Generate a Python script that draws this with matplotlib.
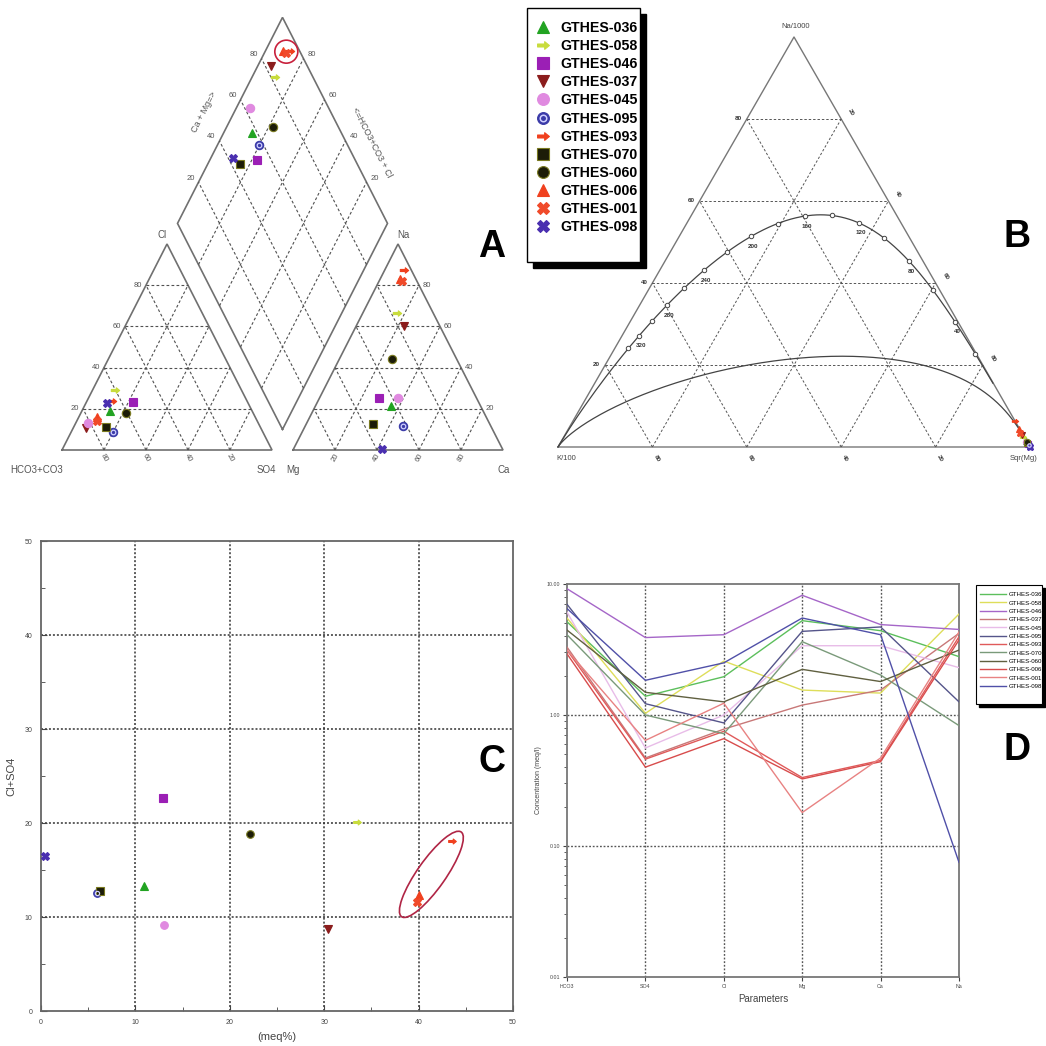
import numpy as np
import matplotlib
matplotlib.use("Agg")
import matplotlib.pyplot as plt
from matplotlib.path import Path
from matplotlib.patches import Rectangle, Ellipse
from matplotlib.lines import Line2D
from matplotlib.legend_handler import HandlerTuple
from matplotlib.ticker import FixedLocator, NullFormatter, FixedFormatter

plt.rcParams['font.family'] = ['Liberation Sans', 'DejaVu Sans']

# ------------------------------------------------------------------ data
samples = ["GTHES-036", "GTHES-058", "GTHES-046", "GTHES-037", "GTHES-045", "GTHES-095",
           "GTHES-093", "GTHES-070", "GTHES-060", "GTHES-006", "GTHES-001", "GTHES-098"]

# Piper - anion triangle (%)
piper_cl = [18.9, 29.1, 23.3, 10.7, 13.1, 8.7, 23.8, 11.2, 18.0, 16.0, 14.1, 22.8]
piper_so4 = [13.4, 10.6, 22.2, 6.1, 5.8, 19.9, 11.9, 15.4, 21.5, 8.7, 9.6, 10.0]
# Piper - cation triangle (%)
piper_na = [21.4, 66.5, 25.2, 60.2, 25.2, 11.7, 87.4, 12.6, 44.2, 83.0, 82.0, 0.5]
piper_ca = [36.0, 16.3, 28.4, 22.8, 37.4, 46.6, 9.2, 31.8, 25.0, 9.5, 10.9, 42.2]
# Piper - diamond (%)
diam_camg = [57.5, 82.0, 53.3, 82.7, 62.5, 57.9, 95.4, 44.2, 68.9, 92.1, 93.0, 42.3]
diam_hco3cl = [86.5, 89.1, 77.6, 93.7, 93.5, 80.3, 88.3, 84.7, 77.9, 91.6, 89.7, 89.4]

# Giggenbach Na-K-Mg (% of Na/1000 + K/100 + sqrt(Mg))
gig_na = [1.5, 2.4, 0.8, 3.0, 1.3, 0.4, 6.3, 1.0, 1.2, 4.3, 3.5, 0.1]
gig_k = [0.2, 0.3, 0.1, 0.3, 0.2, 0.0, 0.1, 0.1, 0.0, 0.1, 0.3, 0.0]
TKN = (1390.0, 1.75)     # Na-K geothermometer constants
TKM = (4410.0, 14.0)     # K-Mg geothermometer constants
MI_PARTIAL = 2.0         # maturity index of partial-equilibrium line
T_marks = list(range(20, 341, 20))
T_labels = [40, 80, 120, 160, 200, 240, 280, 320]

# Scatter (panel C)
c_meq = [10.87, 33.49, 12.88, 30.42, 13.02, 5.96, 43.54, 6.25, 22.12, 40.05, 39.87, 0.42]
c_clso4 = [13.27, 20.12, 22.71, 8.77, 9.19, 12.56, 18.13, 12.74, 18.84, 12.38, 11.60, 16.5]

# Schoeller (panel D), meq/l
params = ["HCO3", "SO4", "Cl", "Mg", "Ca", "Na"]
d_hco3 = [5.15, 5.5, 9.2, 3.3, 6.1, 7.0, 3.13, 4.1, 4.45, 2.93, 3.13, 6.5]
d_so4 = [1.39, 1.03, 3.9, 0.47, 0.56, 1.22, 0.46, 1.0, 1.49, 0.40, 0.64, 1.84]
d_cl = [1.96, 2.58, 4.1, 0.78, 1.0, 0.87, 0.75, 0.72, 1.26, 0.66, 1.23, 2.5]
d_mg = [5.25, 1.55, 8.2, 1.19, 3.38, 4.35, 0.333, 3.63, 2.23, 0.325, 0.18, 5.5]
d_ca = [4.4, 1.47, 4.9, 1.55, 3.38, 4.7, 0.45, 2.02, 1.8, 0.44, 0.47, 4.1]
d_na = [2.79, 5.9, 4.5, 4.2, 2.3, 1.26, 3.96, 0.83, 3.13, 3.74, 4.3, 0.075]

grouped = ["GTHES-006", "GTHES-001", "GTHES-093"]

# ------------------------------------------------------------------ styles
ARROW = Path([(-1, -0.25), (0.2, -0.25), (0.2, -0.65), (1, 0), (0.2, 0.65), (0.2, 0.25),
              (-1, 0.25), (-1, -0.25)],
             [Path.MOVETO] + [Path.LINETO] * 6 + [Path.CLOSEPOLY])
styles = {
    "GTHES-036": ('^', '#22a322', '#22a322'),
    "GTHES-058": (ARROW, '#c8dc3c', '#c8dc3c'),
    "GTHES-046": ('s', '#9b1fb5', '#9b1fb5'),
    "GTHES-037": ('v', '#8b1c1c', '#8b1c1c'),
    "GTHES-045": ('o', '#e08ae0', '#e08ae0'),
    "GTHES-095": ('o', '#3a3aa8', '#3a3aa8'),
    "GTHES-093": (ARROW, '#f0401e', '#f0401e'),
    "GTHES-070": ('s', '#1c1c08', '#7a7a20'),
    "GTHES-060": ('o', '#1c1c08', '#7a7a20'),
    "GTHES-006": ('^', '#f0401e', '#f0401e'),
    "GTHES-001": ('X', '#f04a2a', '#f04a2a'),
    "GTHES-098": ('X', '#4a2fb0', '#4a2fb0'),
}
line_colors = {
    "GTHES-036": '#5cbf5c', "GTHES-058": '#dede5a', "GTHES-046": '#a566c8',
    "GTHES-037": '#c87878', "GTHES-045": '#e8bce8', "GTHES-095": '#55558a',
    "GTHES-093": '#e05a5a', "GTHES-070": '#7a9a7a', "GTHES-060": '#606040',
    "GTHES-006": '#d84c4c', "GTHES-001": '#e88282', "GTHES-098": '#5050a8',
}


def draw_pt(ax, x, y, name, ms, z=5):
    m, fc, ec = styles[name]
    ax.plot([x], [y], linestyle='none', marker=m, ms=ms, mfc=fc, mec=ec, mew=0.8, zorder=z)
    if name == "GTHES-095":
        ax.plot([x], [y], linestyle='none', marker='o', ms=ms * 0.55, mfc='none',
                mec='#d0d0ff', mew=0.9, zorder=z + 0.1)


def handle(name, ms):
    m, fc, ec = styles[name]
    h = Line2D([], [], linestyle='none', marker=m, ms=ms, mfc=fc, mec=ec, mew=0.8)
    if name == "GTHES-095":
        h2 = Line2D([], [], linestyle='none', marker='o', ms=ms * 0.55, mfc='none',
                    mec='#d0d0ff', mew=1.1)
        return (h, h2)
    return h


W, H = 1046, 1046
fig = plt.figure(figsize=(W / 100, H / 100), dpi=100)


def fig_axes(x0, y0, x1, y1):
    return fig.add_axes([x0 / W, 1 - y1 / H, (x1 - x0) / W, (y1 - y0) / H])


def letter(txt, x, y):
    fig.text(x / W, 1 - y / H, txt, fontsize=27, fontweight='bold', ha='center', va='center')


# ================================================================== Panel A (Piper)
axA = fig_axes(0, 0, 520, 470)
PX0, PY0, SX, SY = 62, 450, 210.0, 206.0
axA.set_xlim((0 - PX0) / SX, (520 - PX0) / SX)
axA.set_ylim((PY0 - 470) / SY, (PY0 - 0) / SY)
axA.axis('off')
GAP = 0.1
edge = dict(color='#707070', lw=1.2, solid_joinstyle='miter')
gridk = dict(color='#505050', lw=0.8, ls=(0, (2.5, 2.0)))
fr = [0.2, 0.4, 0.6, 0.8]
lab = dict(fontsize=5.5, color='#555555')
dx, dy = 1 / SX, 1 / SY

for off in (0.0, 1 + GAP):
    axA.plot([off, off + 1, off + 0.5, off], [0, 0, 1, 0], **edge)
    for f in fr:
        axA.plot([off + f / 2, off + 1 - f / 2], [f, f], **gridk)
        axA.plot([off + f, off + f + (1 - f) / 2], [0, 1 - f], **gridk)
        axA.plot([off + 1 - f, off + (1 - f) / 2], [0, 1 - f], **gridk)

B = np.array([1 + GAP / 2, GAP])
Lv = B + np.array([-0.5, 1.0])
Rv = B + np.array([0.5, 1.0])
Tv = B + np.array([0.0, 2.0])
axA.plot([B[0], Lv[0], Tv[0], Rv[0], B[0]], [B[1], Lv[1], Tv[1], Rv[1], B[1]], **edge)
for f in fr:
    p0 = B + f * (Lv - B)
    p1 = p0 + (Rv - B)
    axA.plot([p0[0], p1[0]], [p0[1], p1[1]], **gridk)
    q0 = B + f * (Rv - B)
    q1 = q0 + (Lv - B)
    axA.plot([q0[0], q1[0]], [q0[1], q1[1]], **gridk)

# tick labels
for f in fr:
    v = int(round(f * 100))
    axA.text(f / 2 - 4 * dx, f, str(v), ha='right', va='center', **lab)
    axA.text(1 - f, -8 * dy, str(v), ha='center', va='center', rotation=-60, **lab)
    axA.text(1 + GAP + 1 - f / 2 + 4 * dx, f, str(v), ha='left', va='center', **lab)
    axA.text(1 + GAP + f, -8 * dy, str(v), ha='center', va='center', rotation=60, **lab)
    pl = B + (Lv - B) + f * (Rv - B)
    axA.text(pl[0] - 4 * dx, pl[1] + 4 * dy, str(v), ha='right', va='center', **lab)
    pr = B + (Rv - B) + f * (Lv - B)
    axA.text(pr[0] + 4 * dx, pr[1] + 4 * dy, str(v), ha='left', va='center', **lab)

clab = dict(fontsize=7, color='#555555')
axA.text(0.5 - 5 * dx, 1 + 9 * dy, "Cl", ha='center', va='center', **clab)
axA.text(1 + GAP + 0.5 + 5 * dx, 1 + 9 * dy, "Na", ha='center', va='center', **clab)
axA.text(-52 * dx, -20 * dy, "HCO3+CO3", ha='left', va='center', **clab)
axA.text(1 - 6 * dx, -20 * dy, "SO4", ha='center', va='center', **clab)
axA.text(1 + GAP, -20 * dy, "Mg", ha='center', va='center', **clab)
axA.text(2 + GAP + 1 * dx, -20 * dy, "Ca", ha='center', va='center', **clab)
midL = (Lv + Tv) / 2
midR = (Rv + Tv) / 2
axA.text(midL[0] - 26 * dx, midL[1] + 8 * dy, "Ca + Mg=>", rotation=63, ha='center',
         va='center', fontsize=6.5, color='#555555')
axA.text(midR[0] + 37 * dx, midR[1] - 22 * dy, "<=HCO3+CO3 + Cl", rotation=-63, ha='center',
         va='center', fontsize=6.5, color='#555555')

# data points
for i, name in enumerate(samples):
    cl, so4 = piper_cl[i] / 100, piper_so4[i] / 100
    draw_pt(axA, so4 + cl / 2, cl, name, 6)
    na, ca = piper_na[i] / 100, piper_ca[i] / 100
    draw_pt(axA, 1 + GAP + ca + na / 2, na, name, 6)
    a, b = diam_hco3cl[i] / 100, diam_camg[i] / 100
    p = B + a * (Lv - B) + b * (Rv - B)
    draw_pt(axA, p[0], p[1], name, 6)

gidx = [samples.index(n) for n in grouped]
gp = np.array([B + diam_hco3cl[i] / 100 * (Lv - B) + diam_camg[i] / 100 * (Rv - B) for i in gidx])
cen = gp.mean(axis=0)
axA.add_patch(Ellipse(cen, 23 * dx, 23 * dy, fill=False, ec='#c8203c', lw=1.2, zorder=6))
letter("A", 492, 247)

# ------------------------------------------------------------------ legend (A)
lax = fig_axes(515, 0, 655, 280)
lax.set_xlim(515, 655)
lax.set_ylim(280, 0)
lax.axis('off')
lax.add_patch(Rectangle((527 + 6, 8 + 6), 113, 254, fc='black', ec='black', zorder=1))
lax.add_patch(Rectangle((527, 8), 113, 254, fc='white', ec='black', lw=1.0, zorder=2))
hA = [handle(n, 8.5) for n in samples]
legA = lax.legend(hA, samples, loc='upper left', bbox_to_anchor=(536, 21),
                  bbox_transform=lax.transData, frameon=False, borderpad=0, borderaxespad=0,
                  handlelength=1.0, handletextpad=0.75, labelspacing=0.29,
                  prop=dict(size=10.2, weight='bold'),
                  handler_map={tuple: HandlerTuple(ndivide=1, pad=0)})
legA.set_zorder(5)

# ================================================================== Panel B (Giggenbach)
axB = fig_axes(550, 0, 1046, 470)
GX0, GY0, GS = 558, 447, 472.0
GH = 410.0 / 472.0
axB.set_xlim((550 - GX0) / GS, (1046 - GX0) / GS)
axB.set_ylim((GY0 - 470) / GS, (GY0 - 0) / GS)
axB.axis('off')
u = 1 / GS


def gxy(na, k, mg):
    na, k, mg = np.asarray(na, float), np.asarray(k, float), np.asarray(mg, float)
    tot = na + k + mg
    return mg / tot + 0.5 * na / tot, GH * na / tot


axB.plot([0, 1, 0.5, 0], [0, 0, GH, 0], color='#777777', lw=1.0)
gB = dict(color='#555555', lw=0.7, ls=(0, (2.5, 2.0)))
blab = dict(fontsize=4.5, fontweight='bold', color='#333333')
for f in fr:
    axB.plot([f / 2, 1 - f / 2], [GH * f, GH * f], **gB)
    axB.plot([1 - f, (1 - f) / 2], [0, GH * (1 - f)], **gB)
    axB.plot([f, f + (1 - f) / 2], [0, GH * (1 - f)], **gB)
    v = int(round(f * 100))
    axB.text(f / 2 - 5 * u, GH * f, str(v), ha='right', va='center', **blab)
    axB.text(1 - f / 2 + 10 * u, GH * f + 7 * u, str(100 - v), ha='center', va='center',
             rotation=-60, **blab)
    axB.text(1 - f + 4 * u, -11 * u, str(v), ha='center', va='center', rotation=-60, **blab)

axB.text(0.5 + 2 * u, GH + 11 * u, "Na/1000", ha='center', va='center', fontsize=5.5, color='#444444')
axB.text(8 * u, -12 * u, "K/100", ha='center', va='center', fontsize=5.5, color='#444444')
axB.text(1 - 6 * u, -12 * u, "Sqr(Mg)", ha='center', va='center', fontsize=5.5, color='#444444')

# full equilibrium line
Tcurve = np.concatenate([np.linspace(0, 400, 400), np.linspace(400, 6000, 300)])


def full_eq(T):
    Tk = np.asarray(T, float) + 273.15
    na_k = 10 ** (TKN[0] / Tk - TKN[1])
    k_sqrtmg = np.sqrt(10 ** (TKM[1] - TKM[0] / Tk))
    return na_k / 1000.0, np.full_like(Tk, 1 / 100.0), 1.0 / k_sqrtmg


fx, fy = gxy(*full_eq(Tcurve))
axB.plot(fx, fy, color='#444444', lw=0.9)
mx, my = gxy(*full_eq(T_marks))
axB.plot(mx, my, linestyle='none', marker='o', ms=3.2, mfc='white', mec='#444444', mew=0.7)
for t in T_labels:
    lx, ly = gxy(*full_eq([t]))
    axB.text(lx[0] + 2 * u, ly[0] - 10 * u, str(t), ha='center', va='center', **blab)

# partial equilibrium line
s = np.logspace(-4, 7, 600)
pna = 10 ** MI_PARTIAL * s ** (-0.63) / 1000.0
px_, py_ = gxy(pna, np.full_like(s, 0.01), 1.0 / s)
axB.plot(px_, py_, color='#444444', lw=0.9)

for i, name in enumerate(samples):
    x, y = gxy(gig_na[i], gig_k[i], 100 - gig_na[i] - gig_k[i])
    draw_pt(axB, float(x), float(y), name, 4.5)
letter("B", 1017, 237)

# ================================================================== Panel C
axC = fig_axes(41, 541, 513, 1011)
axC.set_xlim(0, 50)
axC.set_ylim(0, 50)
axC.set_xticks(range(0, 51, 10))
axC.set_yticks(range(0, 51, 10))
axC.set_xticks(range(5, 50, 10), minor=True)
axC.set_yticks(range(5, 50, 10), minor=True)
for v in range(10, 50, 10):
    axC.axvline(v, color='#333333', lw=1.1, ls=(0, (1.3, 1.3)), zorder=1)
    axC.axhline(v, color='#333333', lw=1.1, ls=(0, (1.3, 1.3)), zorder=1)
for sp in axC.spines.values():
    sp.set_color('#666666')
    sp.set_linewidth(1.3)
axC.tick_params(which='both', direction='in', labelsize=5, colors='#444444', pad=6)
axC.tick_params(which='major', length=4)
axC.tick_params(which='minor', length=3)
for i, name in enumerate(samples):
    draw_pt(axC, c_meq[i], c_clso4[i], name, 5.5)
gx = np.mean([c_meq[i] for i in gidx]) + 0.2
gy = np.mean([c_clso4[i] for i in gidx]) + 0.5
axC.add_patch(Ellipse((gx, gy), 11.0, 3.0, angle=55, fill=False, ec='#b02545', lw=1.2, zorder=6))
axC.set_xlabel("(meq%)", fontsize=8, color='#444444', labelpad=4)
axC.set_ylabel("Cl+SO4", fontsize=8, color='#444444', labelpad=6)
letter("C", 492, 762)

# ================================================================== Panel D
axD = fig_axes(567, 584, 959, 977)
cols = [d_hco3, d_so4, d_cl, d_mg, d_ca, d_na]
xs = np.arange(len(params))
for i, name in enumerate(samples):
    axD.plot(xs, [c[i] for c in cols], color=line_colors[name], lw=1.0, label=name, zorder=3)
axD.set_yscale('log')
axD.set_ylim(0.01, 10)
axD.set_xlim(0, 5)
axD.set_xticks(xs)
axD.set_xticklabels(params)
axD.yaxis.set_major_locator(FixedLocator([0.01, 0.1, 1, 10]))
axD.yaxis.set_major_formatter(FixedFormatter(["0.01", "0.10", "1.00", "10.00"]))
axD.yaxis.set_minor_formatter(NullFormatter())
for v in xs[1:-1]:
    axD.axvline(v, color='#555555', lw=1.0, ls=(0, (1.3, 1.3)), zorder=1)
for v in (0.1, 1.0):
    axD.axhline(v, color='#555555', lw=1.0, ls=(0, (1.3, 1.3)), zorder=1)
for sp in axD.spines.values():
    sp.set_color('#777777')
    sp.set_linewidth(1.3)
axD.tick_params(which='both', labelsize=3.8, colors='#444444', pad=2)
axD.tick_params(which='major', length=3)
axD.tick_params(which='minor', length=2)
axD.set_xlabel("Parameters", fontsize=7, color='#444444', labelpad=4)
axD.set_ylabel("Concentration (meq/l)", fontsize=5, color='#444444', labelpad=3)
letter("D", 1017, 750)

# legend (D)
dax = fig_axes(965, 575, 1046, 715)
dax.set_xlim(965, 1046)
dax.set_ylim(715, 575)
dax.axis('off')
dax.add_patch(Rectangle((976 + 3, 585 + 3), 66, 119, fc='black', ec='black', zorder=1))
dax.add_patch(Rectangle((976, 585), 66, 119, fc='white', ec='black', lw=0.8, zorder=2))
hD, lD = axD.get_legend_handles_labels()
legD = dax.legend(hD, lD, loc='upper left', bbox_to_anchor=(980, 592),
                  bbox_transform=dax.transData, frameon=False, borderpad=0, borderaxespad=0,
                  handlelength=4.3, handletextpad=0.35, labelspacing=0.5,
                  prop=dict(size=4.4))
legD.set_zorder(5)

fig.savefig("out.png", dpi=100)
